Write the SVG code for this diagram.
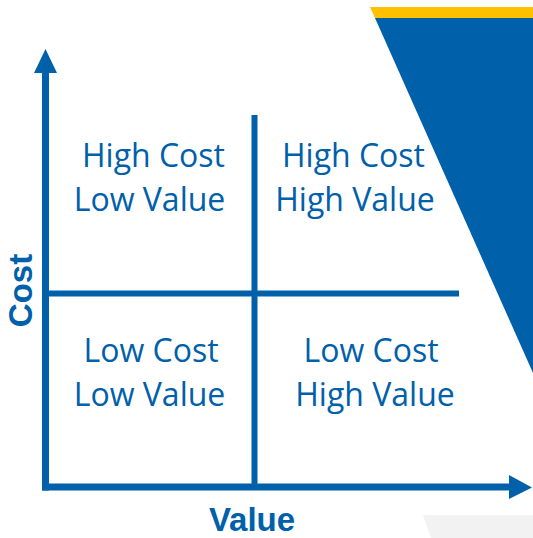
<svg xmlns="http://www.w3.org/2000/svg" width="533" height="538" viewBox="0 0 533 538">
  <style>
    .q { font-family: "Open Sans", "Liberation Sans", sans-serif; font-size: 32px; fill: #0060aa; text-anchor: middle; }
    .ax { font-family: "Liberation Sans", Arial, sans-serif; font-size: 33px; font-weight: bold; fill: #0060aa; text-anchor: middle; }
    .axis { stroke: #0060aa; stroke-width: 7; fill: none; }
    .div { stroke: #0060aa; stroke-width: 6; fill: none; }
    .head { fill: #0060aa; }
  </style>
  <rect width="533" height="538" fill="#ffffff"/>
  <g id="decor">
    <polygon points="370,7 533,7 533,18 375,18" fill="#ffc000"/>
    <polygon points="375,18 533,18 533,373" fill="#0060aa"/>
    <polygon points="423,515 533,515 533,538 431,538" fill="#f2f2f2"/>
  </g>
  <g id="connectors">
    <path class="axis" d="M45.5,72 L45.5,490.5"/>
    <polygon class="head" points="45.5,49 34,73 57,73"/>
    <line class="axis" x1="42" y1="487" x2="510" y2="487"/>
    <polygon class="head" points="532,487.5 509,475 509,499"/>
    <line class="div" x1="254.5" y1="115" x2="254.5" y2="487"/>
    <line class="div" x1="45" y1="293.5" x2="459" y2="293.5"/>
  </g>
  <g id="q-hc-lv">
    <text class="q" x="153.5" y="167">High Cost</text>
    <text class="q" x="149.5" y="211">Low Value</text>
  </g>
  <g id="q-hc-hv">
    <text class="q" x="353.5" y="167">High Cost</text>
    <text class="q" x="355" y="211">High Value</text>
  </g>
  <g id="q-lc-lv">
    <text class="q" x="151" y="362">Low Cost</text>
    <text class="q" x="149.5" y="406">Low Value</text>
  </g>
  <g id="q-lc-hv">
    <text class="q" x="371" y="362">Low Cost</text>
    <text class="q" x="375" y="406">High Value</text>
  </g>
  <g id="label-cost">
    <text class="ax" transform="translate(31.5,290.5) rotate(-90)">Cost</text>
  </g>
  <g id="label-value">
    <text class="ax" x="252" y="530.5">Value</text>
  </g>
</svg>
